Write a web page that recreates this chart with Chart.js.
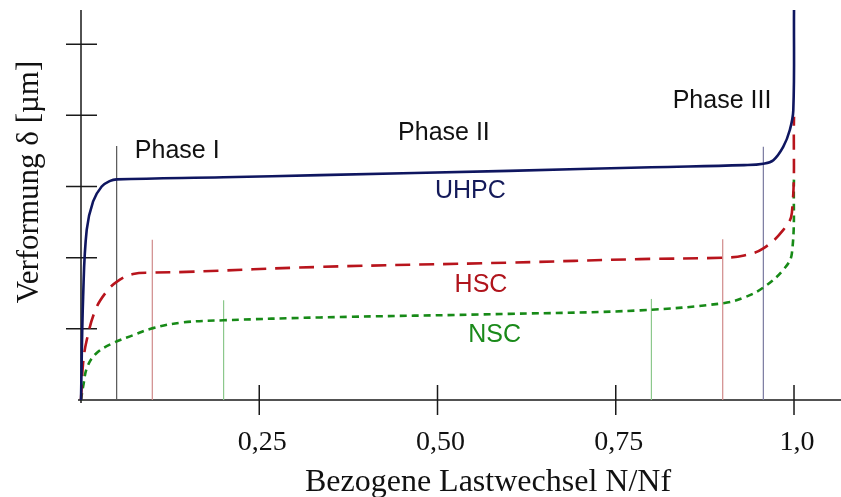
<!DOCTYPE html>
<html>
<head>
<meta charset="utf-8">
<script src="https://cdn.jsdelivr.net/npm/chart.js@4/dist/chart.umd.min.js"></script>
<style>
  html, body { margin: 0; padding: 0; background: #fff; }
  #wrap { width: 841px; height: 497px; }
</style>
</head>
<body>
<div id="wrap"><canvas id="chart" width="841" height="497"></canvas></div>
<script>
// Curves (x = N/Nf, y = deformation in tick units)
const uhpcX = [0, 0.003, 0.008, 0.017, 0.029, 0.041, 0.05, 0.2, 0.335, 0.6, 0.8, 0.93, 0.957, 0.971, 0.985, 0.994, 0.999, 1.0];
const uhpcY = [0, 1.45, 2.39, 2.79, 3.0, 3.08, 3.10, 3.13, 3.16, 3.22, 3.27, 3.30, 3.32, 3.37, 3.56, 3.79, 4.07, 5.48];

const hscX = [0, 0.003, 0.008, 0.020, 0.034, 0.050, 0.073, 0.101, 0.148, 0.335, 0.6, 0.784, 0.9, 0.93, 0.957, 0.985, 0.997, 1.0];
const hscY = [0, 0.52, 0.84, 1.26, 1.50, 1.66, 1.77, 1.79, 1.80, 1.87, 1.93, 1.98, 2.00, 2.03, 2.13, 2.39, 2.63, 3.98];

const nscX = [0, 0.003, 0.009, 0.022, 0.045, 0.073, 0.101, 0.143, 0.2, 0.335, 0.6, 0.784, 0.901, 0.93, 0.957, 0.985, 0.997, 1.0];
const nscY = [0, 0.19, 0.47, 0.66, 0.80, 0.91, 1.01, 1.09, 1.12, 1.16, 1.21, 1.26, 1.36, 1.44, 1.58, 1.83, 2.06, 3.14];

// phase boundary markers
const phaseX = [0.05, 0.10, 0.20, 0.80, 0.90, 0.957];
const phaseTop = [3.57, 2.25, 1.40, 1.42, 2.26, 3.56];
const phaseColors = ['#555555', '#d08a8a', '#8cc88c', '#8cc88c', '#d08a8a', '#7a7aa0'];

const xTicks = [0.25, 0.5, 0.75, 1.0];
const xTickLabels = ['0,25', '0,50', '0,75', '1,0'];
const yTicks = [1, 2, 3, 4, 5];

const notes = [
  { text: 'Phase I', x: 0.135, y: 3.40, color: '#111' },
  { text: 'Phase II', x: 0.509, y: 3.66, color: '#111' },
  { text: 'Phase III', x: 0.899, y: 4.10, color: '#111' },
  { text: 'UHPC', x: 0.546, y: 2.84, color: '#141a5a' },
  { text: 'HSC', x: 0.561, y: 1.52, color: '#b0141c' },
  { text: 'NSC', x: 0.580, y: 0.81, color: '#1a8a1a' }
];

const NAVY = '#0f1660', RED = '#b8141c', GREEN = '#178a17';

function pts(xs, ys) { return xs.map((x, i) => ({ x: x, y: ys[i] })); }

// plain bezier smoothing copes with the vertical end better than monotone
const curveStyle = { showLine: true, pointRadius: 0, borderWidth: 2.6, tension: 0.4, fill: false, clip: false };

const datasets = [
  Object.assign({ label: 'UHPC', data: pts(uhpcX, uhpcY), borderColor: NAVY }, curveStyle),
  Object.assign({ label: 'HSC', data: pts(hscX, hscY), borderColor: RED, borderDash: [15, 9] }, curveStyle),
  Object.assign({ label: 'NSC', data: pts(nscX, nscY), borderColor: GREEN, borderDash: [7, 5] }, curveStyle)
];
phaseX.forEach((x, i) => {
  datasets.push({
    label: 'phase' + i,
    data: [{ x: x, y: 0 }, { x: x, y: phaseTop[i] }],
    showLine: true, pointRadius: 0, borderWidth: 1.2,
    borderColor: phaseColors[i], tension: 0, clip: false
  });
});

const axesPlugin = {
  id: 'axesPlugin',
  beforeDatasetsDraw(chart) {
    const ctx = chart.ctx;
    const xs = chart.scales.x, ys = chart.scales.y;
    const x0 = xs.getPixelForValue(0), y0 = ys.getPixelForValue(0);
    ctx.save();
    ctx.strokeStyle = '#1a1a1a';
    ctx.lineWidth = 1.5;
    ctx.beginPath();
    ctx.moveTo(x0, ys.getPixelForValue(ys.max));
    ctx.lineTo(x0, y0 + 3);
    ctx.moveTo(x0 - 3, y0);
    ctx.lineTo(chart.width, y0);
    yTicks.forEach(v => {
      const p = ys.getPixelForValue(v);
      ctx.moveTo(x0 - 15, p);
      ctx.lineTo(x0 + 16, p);
    });
    xTicks.forEach(v => {
      const p = xs.getPixelForValue(v);
      ctx.moveTo(p, y0 - 15);
      ctx.lineTo(p, y0 + 15);
    });
    ctx.stroke();

    ctx.fillStyle = '#111';
    ctx.font = '28px "Liberation Serif", "Times New Roman", serif';
    ctx.textAlign = 'center';
    ctx.textBaseline = 'alphabetic';
    xTicks.forEach((v, i) => {
      ctx.fillText(xTickLabels[i], xs.getPixelForValue(v) + 3, 450);
    });
    ctx.font = '32px "Liberation Serif", "Times New Roman", serif';
    ctx.fillText('Bezogene Lastwechsel N/Nf', 488, 491);
    ctx.save();
    ctx.translate(38, 182);
    ctx.rotate(-Math.PI / 2);
    ctx.font = '31px "Liberation Serif", "Times New Roman", serif';
    ctx.fillText('Verformung \u03b4 [\u00b5m]', 0, 0);
    ctx.restore();
    ctx.restore();
  },
  afterDatasetsDraw(chart) {
    const ctx = chart.ctx;
    const xs = chart.scales.x, ys = chart.scales.y;
    ctx.save();
    ctx.font = '25px "Liberation Sans", Arial, sans-serif';
    ctx.textAlign = 'center';
    ctx.textBaseline = 'alphabetic';
    notes.forEach(n => {
      ctx.fillStyle = n.color;
      ctx.fillText(n.text, xs.getPixelForValue(n.x), ys.getPixelForValue(n.y));
    });
    ctx.restore();
  }
};

new Chart(document.getElementById('chart'), {
  type: 'scatter',
  data: { datasets: datasets },
  options: {
    responsive: false,
    animation: false,
    layout: { padding: { left: 81, right: 1, top: 10, bottom: 97 } },
    scales: {
      x: { type: 'linear', min: 0, max: 1.0645, display: false },
      y: { type: 'linear', min: 0, max: 5.48, display: false }
    },
    plugins: { legend: { display: false }, tooltip: { enabled: false } }
  },
  plugins: [axesPlugin]
});
</script>
</body>
</html>
